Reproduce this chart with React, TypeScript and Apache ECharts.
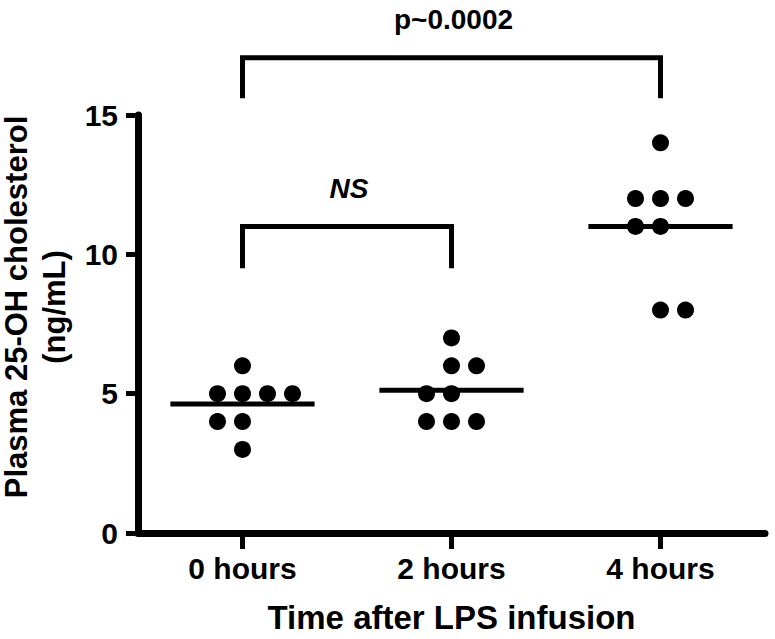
import React, { useEffect, useRef } from "react";
import * as echarts from "echarts";

const categories = ["0 hours", "2 hours", "4 hours"];
const values0 = [6, 5, 5, 5, 5, 4, 4, 3];
const cols0 = [0, -1, 0, 1, 2, -1, 0, 0];
const values1 = [7, 6, 6, 5, 5, 4, 4, 4];
const cols1 = [0, 0, 1, -1, 0, -1, 0, 1];
const values2 = [14, 12, 12, 12, 11, 11, 8, 8];
const cols2 = [0, -1, 0, 1, -1, 0, 0, 1];
const yTicks = [0, 5, 10, 15];
const bracketFrom = [0, 0];
const bracketTo = [1, 2];
const bracketTop = [11, 17.05];
const bracketDrop = [9.5, 15.6];
const bracketLabels = ["NS", "p~0.0002"];
const bracketItalic = [true, false];

const FONT = '"Liberation Sans", Arial, sans-serif';

export default function App() {
  const ref = useRef<HTMLDivElement>(null);
  useEffect(() => {
    if (!ref.current) return;
    const chart = echarts.init(ref.current, null, { renderer: "svg" });
    const groups = [
      { v: values0, c: cols0 },
      { v: values1, c: cols1 },
      { v: values2, c: cols2 },
    ];
    const dots: any[] = [];
    const means: any[] = [];
    groups.forEach((g, gi) => {
      g.v.forEach((val, i) => {
        dots.push({ value: [gi, val], symbolOffset: [g.c[i] * 25, 0] });
      });
      means.push([gi, g.v.reduce((a, b) => a + b, 0) / g.v.length]);
    });
    const brackets = bracketFrom.map((f, i) => [f, bracketTo[i], bracketTop[i], bracketDrop[i]]);

    chart.setOption({
      animation: false,
      backgroundColor: "#fff",
      grid: { left: 138, right: 10, top: 115, bottom: 104, containLabel: false },
      xAxis: {
        type: "category",
        data: categories,
        boundaryGap: true,
        axisLine: { show: true, lineStyle: { color: "#000", width: 7 } },
        axisTick: { show: true, alignWithLabel: true, length: 16, lineStyle: { color: "#000", width: 5 } },
        axisLabel: { color: "#000", fontFamily: FONT, fontWeight: "bold", fontSize: 30, margin: 20 },
        name: "Time after LPS infusion",
        nameLocation: "middle",
        nameGap: 68,
        nameTextStyle: { color: "#000", fontFamily: FONT, fontWeight: "bold", fontSize: 33 },
        splitLine: { show: false },
      },
      yAxis: {
        type: "value",
        min: yTicks[0],
        max: yTicks[yTicks.length - 1],
        interval: yTicks[1] - yTicks[0],
        axisLine: { show: true, lineStyle: { color: "#000", width: 7 } },
        axisTick: { show: true, length: 12, lineStyle: { color: "#000", width: 5 } },
        axisLabel: { color: "#000", fontFamily: FONT, fontWeight: "bold", fontSize: 30, margin: 20 },
        splitLine: { show: false },
      },
      graphic: [
        {
          type: "text",
          x: 35,
          y: 307,
          rotation: Math.PI / 2,
          style: {
            text: "Plasma 25-OH cholesterol\n(ng/mL)",
            font: `bold 31px ${FONT}`,
            align: "center",
            verticalAlign: "middle",
            lineHeight: 38,
            fill: "#000",
          },
        },
      ],
      series: [
        {
          type: "scatter",
          data: dots,
          symbol: "circle",
          symbolSize: 17,
          itemStyle: { color: "#000", opacity: 1 },
          z: 3,
        },
        {
          type: "custom",
          data: means,
          z: 4,
          renderItem: (params: any, api: any) => {
            const c = api.coord([api.value(0), api.value(1)]);
            const w = api.size([1, 0])[0] * 0.345;
            return {
              type: "line",
              shape: { x1: c[0] - w, y1: c[1], x2: c[0] + w, y2: c[1] },
              style: { stroke: "#000", lineWidth: 5 },
            };
          },
        },
        {
          type: "custom",
          data: brackets,
          clip: false,
          z: 5,
          renderItem: (params: any, api: any) => {
            const f = api.value(0);
            const t = api.value(1);
            const top = api.value(2);
            const drop = api.value(3);
            const p1 = api.coord([f, drop]);
            const p2 = api.coord([f, top]);
            const p3 = api.coord([t, top]);
            const p4 = api.coord([t, drop]);
            const idx = params.dataIndex;
            return {
              type: "group",
              children: [
                {
                  type: "polyline",
                  shape: { points: [p1, p2, p3, p4] },
                  style: { stroke: "#000", lineWidth: 5, fill: null, lineJoin: "miter" },
                },
                {
                  type: "text",
                  x: (p2[0] + p3[0]) / 2 + 2,
                  y: p2[1] - 38,
                  style: {
                    text: bracketLabels[idx],
                    font: `${bracketItalic[idx] ? "italic " : ""}bold 28px ${FONT}`,
                    align: "center",
                    verticalAlign: "middle",
                    fill: "#000",
                  },
                },
              ],
            };
          },
        },
      ],
    });
    return () => chart.dispose();
  }, []);
  return (
    <div
      ref={ref}
      style={{ position: "fixed", left: 0, top: 0, width: 775, height: 639, background: "#fff" }}
    />
  );
}
